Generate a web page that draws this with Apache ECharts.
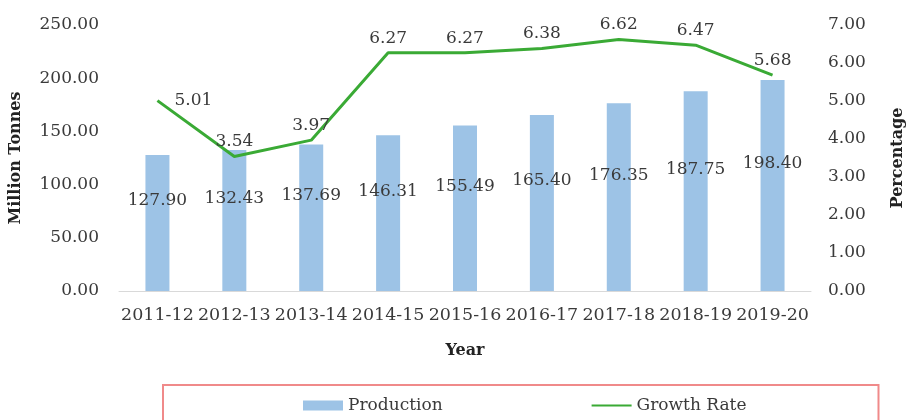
<!DOCTYPE html>
<html>
<head>
<meta charset="utf-8">
<script src="https://cdn.jsdelivr.net/npm/echarts@6/dist/echarts.min.js"></script>
<style>
  html, body { margin: 0; padding: 0; background: #fff; }
  #main { width: 914px; height: 420px; }
</style>
</head>
<body>
<div id="main"></div>
<script>
var years = ['2011-12', '2012-13', '2013-14', '2014-15', '2015-16', '2016-17', '2017-18', '2018-19', '2019-20'];
var production = [127.90, 132.43, 137.69, 146.31, 155.49, 165.40, 176.35, 187.75, 198.40];
var growthRate = [5.01, 3.54, 3.97, 6.27, 6.27, 6.38, 6.62, 6.47, 5.68];

var FONT = 'DejaVu Serif';
var TEXT = '#3a3a3a';
var GREEN = '#3aaa35';

var chart = echarts.init(document.getElementById('main'));

// first label sits on the right of the point, like the original
var rateData = growthRate.map(function (v, i) {
  if (i === 0) return { value: v, label: { position: 'right', distance: 16 } };
  return v;
});

var option = {
  animation: false,
  textStyle: { fontFamily: FONT },
  grid: { left: 118, right: 88, top: 25, bottom: 129 },
  legend: {
    bottom: -24,
    left: 163,
    itemGap: 148,
    itemWidth: 40,
    itemHeight: 10,
    padding: [12, 132, 30, 140],
    borderColor: '#f08a8a',
    borderWidth: 2,
    textStyle: { fontFamily: FONT, fontSize: 17, color: TEXT },
    data: [
      { name: 'Production', icon: 'rect' },
      { name: 'Growth Rate' }
    ]
  },
  xAxis: {
    type: 'category',
    data: years,
    name: 'Year',
    nameLocation: 'middle',
    nameGap: 52,
    nameTextStyle: { fontFamily: FONT, fontSize: 16, fontWeight: 'bold', color: '#222' },
    axisLine: { lineStyle: { color: '#d9d9d9', width: 1 } },
    axisTick: { show: false },
    axisLabel: { fontFamily: FONT, fontSize: 17.5, color: TEXT, margin: 15, interval: 0 }
  },
  yAxis: [
    {
      type: 'value',
      min: 0,
      max: 250,
      interval: 50,
      name: 'Million Tonnes',
      nameLocation: 'middle',
      nameGap: 95,
      nameRotate: 90,
      nameTextStyle: { fontFamily: FONT, fontSize: 16, fontWeight: 'bold', color: '#222' },
      axisLine: { show: false },
      axisTick: { show: false },
      splitLine: { show: false },
      axisLabel: {
        fontFamily: FONT, fontSize: 17, color: TEXT, margin: 20,
        formatter: function (v) { return v.toFixed(2); }
      }
    },
    {
      type: 'value',
      min: 0,
      max: 7,
      interval: 1,
      name: 'Percentage',
      nameLocation: 'middle',
      nameGap: 79,
      nameRotate: 90,
      nameTextStyle: { fontFamily: FONT, fontSize: 16, fontWeight: 'bold', color: '#222' },
      axisLine: { show: false },
      axisTick: { show: false },
      splitLine: { show: false },
      axisLabel: {
        fontFamily: FONT, fontSize: 17, color: TEXT, margin: 17,
        formatter: function (v) { return v.toFixed(2); }
      }
    }
  ],
  series: [
    {
      name: 'Production',
      type: 'bar',
      data: production,
      barWidth: 24,
      itemStyle: { color: '#9dc3e6' },
      label: {
        show: true,
        position: 'inside',
        offset: [0, -22],
        fontFamily: FONT,
        fontSize: 17,
        color: TEXT,
        formatter: function (p) { return p.value.toFixed(2); }
      }
    },
    {
      name: 'Growth Rate',
      type: 'line',
      yAxisIndex: 1,
      data: rateData,
      symbol: 'circle',
      symbolSize: 2,
      showSymbol: true,
      lineStyle: { color: GREEN, width: 3 },
      itemStyle: { color: 'rgba(0,0,0,0)' },
      label: {
        show: true,
        position: 'top',
        distance: 5,
        fontFamily: FONT,
        fontSize: 17,
        color: TEXT,
        formatter: function (p) { return p.value.toFixed(2); }
      }
    }
  ]
};

chart.setOption(option);
</script>
</body>
</html>
